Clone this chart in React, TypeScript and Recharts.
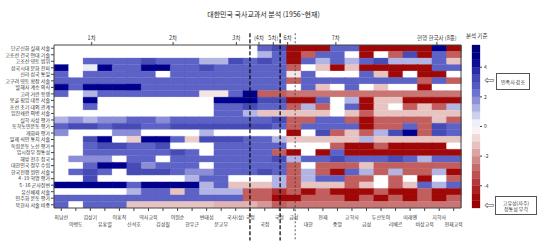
import React from 'react'
import { BarChart, Bar, Cell, XAxis, YAxis, ReferenceLine } from 'recharts'

const FONT = "'Noto Sans CJK KR', 'Noto Sans', sans-serif"

const title = '대한민국 국사교과서 분석 (1956~현재)'

const rowLabels = [
  '단군신화 실재 서술',
  '고조선 건국 연대 기술',
  '고조선 영토 범위',
  '삼국시대 문화 전파',
  '신라 삼국 통일',
  '고구려 영토 확장 서술',
  '발해사 계승 의식',
  '고려 거란 항쟁',
  '몽골 침입 대응 서술',
  '조선 초기 대외 관계',
  '임진왜란 의병 서술',
  '실학 사상 평가',
  '동학농민운동 평가',
  '개화파 평가',
  '일제 식민 통치 서술',
  '독립운동 노선 평가',
  '임시정부 정통성',
  '해방 전후 정국',
  '대한민국 정부 수립',
  '한국전쟁 원인 서술',
  '4·19 혁명 평가',
  '5·16 군사정변',
  '유신체제 서술',
  '민주화 운동 평가',
  '북한사 서술 비중',
]

const colLabels = [
  '최남선', '이병도', '김상기', '유홍렬', '이홍직', '신석호', '역사교육',
  '김성칠', '이원순', '한우근', '변태섭', '문교부', '국사(상)', '국정',
  '국정', '국정', '금성', '대한', '천재', '중앙', '교학사', '금성',
  '두산동아', '리베르', '미래엔', '비상교육', '지학사', '천재교육',
]
// columns whose label sits on the second line
const lowerLine = [1, 3, 5, 7, 9, 11, 14, 17, 19, 21, 23, 25, 27]

const eraNames = ['1차', '2차', '3차', '(4차', '5차)', '6차', '7차', '현행 한국사 (8종)']
const eraPos = [2.5, 7.9, 12.1, 13.6, 14.55, 15.5, 18.7, 25.4]
const majorBreaks = [13, 15]
const minorBreaks = [16]

const scaleTicks = [-4, -2, 0, 2, 4]
const scaleLevels = [
  -5.25, -4.75, -4.25, -3.75, -3.25, -2.75, -2.25, -1.75, -1.25, -0.75, -0.25,
  0.25, 0.75, 1.25, 1.75, 2.25, 2.75, 3.25, 3.75, 4.25, 4.75, 5.25,
]

// one array per row, 28 textbooks each
const r01 = [0, 0, 0, 0, 0, 0, 0, 0, 0, 0, 0, 0, 0, 0, 2.5, 3.2, -4.8, -4.8, -4.8, 2.5, 2.5, -4.8, -4.8, -4.8, -4.8, -4.8, 4.5, -4.8]
const r02 = [0, 0, 0, 0, 0, 0, 0, 0, 0, 0, 0, 0, 0, 0, 1.2, 2.5, -4.8, -3, 2.5, 2.5, 0, -4.8, 0, -3, 3.2, -4.8, 2.5, -3]
const r03 = [0, 0, 2.5, 2.5, 2.5, 2.5, 3.2, 2.5, 2.5, 2.5, 1.2, 1.2, 3.2, 2.5, 3.2, 2.5, -4.8, 2.5, 1.2, 2.5, 1.2, 2.5, 3.2, 1.2, 1.2, 1.2, 2.5, -1.2]
const r04 = [4.5, 0, 0.3, 4.5, 2.5, 2.5, 4.5, 4.5, 2.5, 2.5, 3.2, 2.5, 2.5, 2.5, 2.5, 2.5, -3, 0, -1.2, -4.8, -1.2, -4.8, -4.8, -4.8, -4.8, -4.8, 2.5, 2.5]
const r05 = [2.5, 0, 2.5, 2.5, 2.5, 2.5, 2.5, 0, 2.5, 2.5, 2.5, 2.5, 2.5, 2.5, 2.5, 2.5, -0.5, 2.5, 0, 0, 0, 2.5, -1.2, -4.8, 0, -4.8, -4.8, 0]
const r06 = [2.5, 2.5, 2.5, 2.5, 2.5, 2.5, 2.5, 2.5, 2.5, 2.5, 2.5, 2.5, 2.5, 2.5, 2.5, 2.5, -3, 2.5, 2.5, 2.5, 2.5, 2.5, 2.5, 2.5, 2.5, -3, 2.5, -3]
const r07 = [4.5, 2.5, 4.5, 4.5, 4.5, 4.5, 2.5, 2.5, 2.5, 2.5, 2.5, 2.5, 2.5, 2.5, 2.5, 2.5, 0, 2.5, -1.2, 0, 2.5, 0, -1.2, 0, 0, -4.8, 0, 0]
const r08 = [2.5, 0, 1.2, 2.5, 2.5, 2.5, 2.5, 2.5, 2.5, 2.5, -0.5, -0.5, 2.5, 4.5, -3, -3, -2.6, -2.6, -2.6, -2.6, -2.6, -2.6, -2.6, -2.6, -2.6, -2.6, -2.6, -2.6]
const r09 = [0, 0, 4.5, 0, 0, 0, 0, 0, 0, 0, 0, 4.5, 4.5, 4.5, 3.2, 3.2, -4.8, -4.8, 2.5, 0, 1.2, -4.8, -1.2, -1.2, -4.8, -4.8, -4.8, -4.8]
const r10 = [0, 0, 2.5, 0, 0, 0, 0, 0, 0, 0, 0, 2.5, 2.5, 3.2, 2.5, 2.5, -3, 1.2, -3, 0, 2.5, -4.8, -1.2, 0, -3, -1.2, -3, 1.2]
const r11 = [0, 0, 0, 0, 0, 0, 0, 0, 0, 0, 0, 2.5, 2.5, 1.2, -1.2, -1.2, -1.2, -1.2, -1.2, 0, -1.2, -3, -1.2, -1.2, -1.2, -1.2, -1.2, -1.2]
const r12 = [1.2, 1.8, 1.2, 1.8, 1.8, 2.5, 2.5, 1.8, 2.5, 2.5, 2.5, 2.5, 2.5, 2.5, 2.5, 3.2, -3, -3, 2.5, 2.5, -3, -4.8, -3, -3, -3, -3, -1.2, -3]
const r13 = [2.5, 3.2, 3.2, 2.5, 3.2, 3.2, 2.5, 2.5, 3.2, 3.2, 3.2, 3.2, 3.2, 3.2, 3.2, 2.5, -3, 2.5, 2.5, 2.5, 2.5, -4.8, -3, -3, 2.5, -3, 3.2, 2.5]
const r14 = [1.8, 0, 0, 0, 1.8, 1.8, 0, 0, 0, 0, 1.2, 0, 0, 0, 0, 0, -4.8, 0, 3.2, -3, -1.2, -3, 1.2, 3.2, 4.5, -3, 3.2, 2.5]
const r15 = [0, 0, 3.2, 4.5, 0, -1, 4.5, 4.5, 2.5, -1, 3.2, 3.2, 3.2, 2.5, 2.5, 1.2, -1.2, -1.2, -1.2, -1.2, -1.2, 1.2, -1.2, -1.2, -1.2, -1.2, -1.2, -1.2]
const r16 = [0, 0, 2.5, 3.2, 3.2, 2.5, 2.5, 3.2, 0, 0, 0, 2.5, 2.5, 2.5, 2.5, 2.5, 0, 0, 0, -3, -4.8, -4.8, -3, -4.8, -4.8, -4.8, -4.8, 0]
const r17 = [0, 0, 2.5, 2.5, 2.5, 2.5, 2.5, 2.5, 3.2, 2.5, 0, 2.5, 2.5, 2.5, 2.5, -3, -4.8, 0, -4.8, 2.5, -4.8, -4.8, -4.8, -4.8, -4.8, -4.8, -4.8, -4.8]
const r18 = [0, 1.8, 1.8, 1.8, 0, 2.5, 2.5, 0, 2.5, 2.5, 2.5, 2.5, 2.5, 2.5, 2.5, 3.2, 1.2, 2.5, 2.5, 3.2, 2.5, 2.5, 2.5, 3.2, 2.5, 1.2, 2.5, 2.5]
const r19 = [0, 0, 2.5, 4.5, 4.5, 3.2, 1.8, 2.5, 2.5, 2.5, 0, 2.5, 2.5, 2.5, 2.5, 2.5, -3, 0, -3, -3, -3, -1.2, -3, -3, -3, -3, -3, -3]
const r20 = [0, 2.5, 3.2, 2.5, 0, 3.2, 3.2, 3.2, 2.5, 1.8, 1.8, 2.5, 2.5, 2.5, 3.2, 2.5, -3, 1.2, -3, -4.8, 2.5, 1.2, -3, 1.2, -3, -3, 1.2, -4.8]
const r21 = [0, 0, 3.2, 0, 0, 0, 0, 0, 0, 1.2, 2.5, 2.5, 0, 0, 0, 1.2, -3, 1.2, 2.5, 2.5, -3, -3, 0, -3, 0, -4.8, 0, -3]
const r22 = [4.5, 4.5, 4.5, 4.5, 4.5, 2.5, 4.5, 4.5, 4.5, 4.5, 1.2, 2.5, -1.2, -1.2, -1.2, 1.2, -3, -1.2, -1.2, -1.2, -3, -1.2, 0, -3, -1.2, 2.5, 1.2, 2.5]
const r23 = [0, 0, 0, 0, 0, 1.2, 2.5, 2.5, -1.2, 2.5, 1.2, 1.2, 1.2, -3, -3, -4, -3, -4.8, -3, -4.8, -4.8, -4.8, -3, -4.8, -4.8, -3, -4.8, -4.8]
const r24 = [2.5, 2.5, 2.5, 2.5, 2.5, 2.5, 2.5, 2.5, 2.5, 2.5, 2.5, 2.5, 2.5, -3, -3, -4.8, -4.8, -3, -3, -3, -4.8, -3, -4.8, -3, -4.8, -3, -4.8, -3]
const r25 = [2.5, 0, 2.5, 2.5, 2.5, -1.2, -1.2, -1.2, -1.2, -1.2, -1.2, -1.5, -1.5, -1.5, -2, -3, -2.6, -2.6, -2.6, -2.6, -2.6, -2.6, -2.6, -2.6, -2.6, -2.6, -2.6, -2.6]

const values = [r01, r02, r03, r04, r05, r06, r07, r08, r09, r10, r11, r12, r13, r14, r15, r16, r17, r18, r19, r20, r21, r22, r23, r24, r25]

// blue (positive) -> white -> red (negative)
const stops: [number, number[]][] = [
  [-5.5, [150, 0, 0]],
  [-4.8, [160, 8, 8]],
  [-3, [194, 94, 94]],
  [-1.2, [231, 196, 194]],
  [0, [255, 255, 255]],
  [1.2, [178, 180, 228]],
  [2.5, [93, 98, 198]],
  [3.2, [70, 75, 182]],
  [4.5, [0, 0, 140]],
  [5.5, [0, 0, 115]],
]

function heat(v: number) {
  if (v <= stops[0][0]) return `rgb(${stops[0][1].join(',')})`
  for (let k = 1; k < stops.length; k++) {
    const [b, cb] = stops[k]
    const [a, ca] = stops[k - 1]
    if (v <= b) {
      const t = (v - a) / (b - a)
      const c = ca.map((x, n) => Math.round(x + (cb[n] - x) * t))
      return `rgb(${c.join(',')})`
    }
  }
  return `rgb(${stops[stops.length - 1][1].join(',')})`
}

const cells = colLabels.map((name, j) => {
  const o: any = { name, idx: j }
  rowLabels.forEach((_, i) => { o['r' + i] = 1 })
  return o
})

const scaleRow: any = { name: 'scale' }
scaleLevels.forEach((_, k) => { scaleRow['s' + k] = 0.5 })

function BottomTick(props: any) {
  const { x, y, payload } = props
  const i = payload.index ?? props.index
  const low = lowerLine.includes(i)
  return (
    <text x={x} y={y + (low ? 13 : 6)} textAnchor="middle" fontSize={5} fill="#333" fontFamily={FONT}>
      {payload.value}
    </text>
  )
}

function RowTick(props: any) {
  const { x, y, payload } = props
  return (
    <text x={x} y={y + 1.8} textAnchor="end" fontSize={5} fill="#333" fontFamily={FONT}>
      {rowLabels[Math.round(payload.value - 0.5)]}
    </text>
  )
}

function EraTick(props: any) {
  const { x, y, payload } = props
  const i = payload.index ?? props.index
  return (
    <text x={x} y={y - 1} textAnchor="middle" fontSize={5.5} fill="#333" fontFamily={FONT}>
      {eraNames[i]}
    </text>
  )
}

function ScaleTick(props: any) {
  const { x, y, payload } = props
  return (
    <text x={x} y={y + 1.8} textAnchor="start" fontSize={5} fill="#333" fontFamily={FONT}>
      {String(payload.value - 5.5)}
    </text>
  )
}

const axisStroke = '#444'

export default function App() {
  return (
    <div style={{ position: 'absolute', left: 0, top: 0, width: 541, height: 247, background: '#fff', fontFamily: FONT }}>
      <div style={{ position: 'absolute', left: 0, width: 527, top: 9, textAlign: 'center', fontSize: 7, color: '#222' }}>
        {title}
      </div>

      <BarChart width={541} height={247} data={cells} margin={{ top: 33, right: 72, bottom: 9, left: 4 }}
        barCategoryGap={0} barGap={0}>
        <XAxis xAxisId="top" orientation="top" type="number" domain={[0, 28]} ticks={eraPos} interval={0}
          height={12} tickSize={3} tickMargin={1} stroke={axisStroke} tick={<EraTick />} />
        <XAxis xAxisId="bottom" dataKey="name" height={30} interval={0} tickSize={3} tickMargin={2}
          stroke={axisStroke} tick={<BottomTick />} />
        <YAxis yAxisId="left" type="number" domain={[0, 25]} reversed allowDataOverflow
          ticks={rowLabels.map((_, i) => i + 0.5)} interval={0} width={50} tickSize={3} tickMargin={1}
          stroke={axisStroke} tick={<RowTick />} />
        <YAxis yAxisId="right" orientation="right" type="number" domain={[0, 25]} reversed
          ticks={rowLabels.map((_, i) => i + 0.5)} interval={0} width={8} tickSize={3}
          stroke={axisStroke} tick={() => <g />} />
        {rowLabels.map((_, i) => (
          <Bar key={i} dataKey={'r' + i} stackId="h" xAxisId="bottom" yAxisId="left" isAnimationActive={false}>
            {colLabels.map((_, j) => {
              const f = heat(values[i][j])
              return <Cell key={j} fill={f} stroke={f} strokeWidth={0.3} />
            })}
          </Bar>
        ))}
        {majorBreaks.map(b => (
          <ReferenceLine key={'M' + b} xAxisId="top" yAxisId="left" ifOverflow="visible"
            segment={[{ x: b, y: -1.8 }, { x: b, y: 30 }]} stroke="#000" strokeWidth={1.2} strokeDasharray="4 2" />
        ))}
        {minorBreaks.map(b => (
          <ReferenceLine key={'m' + b} xAxisId="top" yAxisId="left" ifOverflow="visible"
            segment={[{ x: b, y: -1.8 }, { x: b, y: 30 }]} stroke="#333" strokeWidth={0.8} strokeDasharray="2 2" />
        ))}
      </BarChart>

      <div style={{ position: 'absolute', left: 466, top: 32, fontSize: 5.5, color: '#333' }}>분석 기준</div>

      <div style={{ position: 'absolute', left: 460, top: 40 }}>
        <BarChart width={45} height={172} data={[scaleRow]} margin={{ top: 5, right: 0, bottom: 4, left: 12 }}
          barCategoryGap={0}>
          <XAxis dataKey="name" hide />
          <YAxis orientation="right" type="number" domain={[0, 11]} ticks={scaleTicks.map(t => t + 5.5)}
            width={25} axisLine={false} tickSize={2} tickMargin={2}
            stroke={axisStroke} tick={<ScaleTick />} />
          {scaleLevels.map((lv, k) => (
            <Bar key={k} dataKey={'s' + k} stackId="c" fill={heat(lv)} stroke={heat(lv)} strokeWidth={0.3}
              isAnimationActive={false} />
          ))}
        </BarChart>
      </div>

      <div style={{ position: 'absolute', left: 484, top: 74, fontSize: 12, lineHeight: '12px', color: '#555', fontFamily: 'DejaVu Sans' }}>⇦</div>
      <div style={{ position: 'absolute', left: 496, top: 73, width: 34, height: 17, border: '0.8px solid #555',
        fontSize: 5, display: 'flex', alignItems: 'center', justifyContent: 'center', color: '#333', boxSizing: 'border-box' }}>
        민족사 강조
      </div>

      <div style={{ position: 'absolute', left: 484, top: 199, fontSize: 12, lineHeight: '12px', color: '#555', fontFamily: 'DejaVu Sans' }}>⇦</div>
      <div style={{ position: 'absolute', left: 495, top: 196, width: 42, height: 19, border: '0.8px solid #555',
        fontSize: 5, lineHeight: '6px', display: 'flex', flexDirection: 'column', alignItems: 'center',
        justifyContent: 'center', color: '#333', boxSizing: 'border-box' }}>
        <span>고유성(자주)</span>
        <span>정통성 부각</span>
      </div>
    </div>
  )
}
